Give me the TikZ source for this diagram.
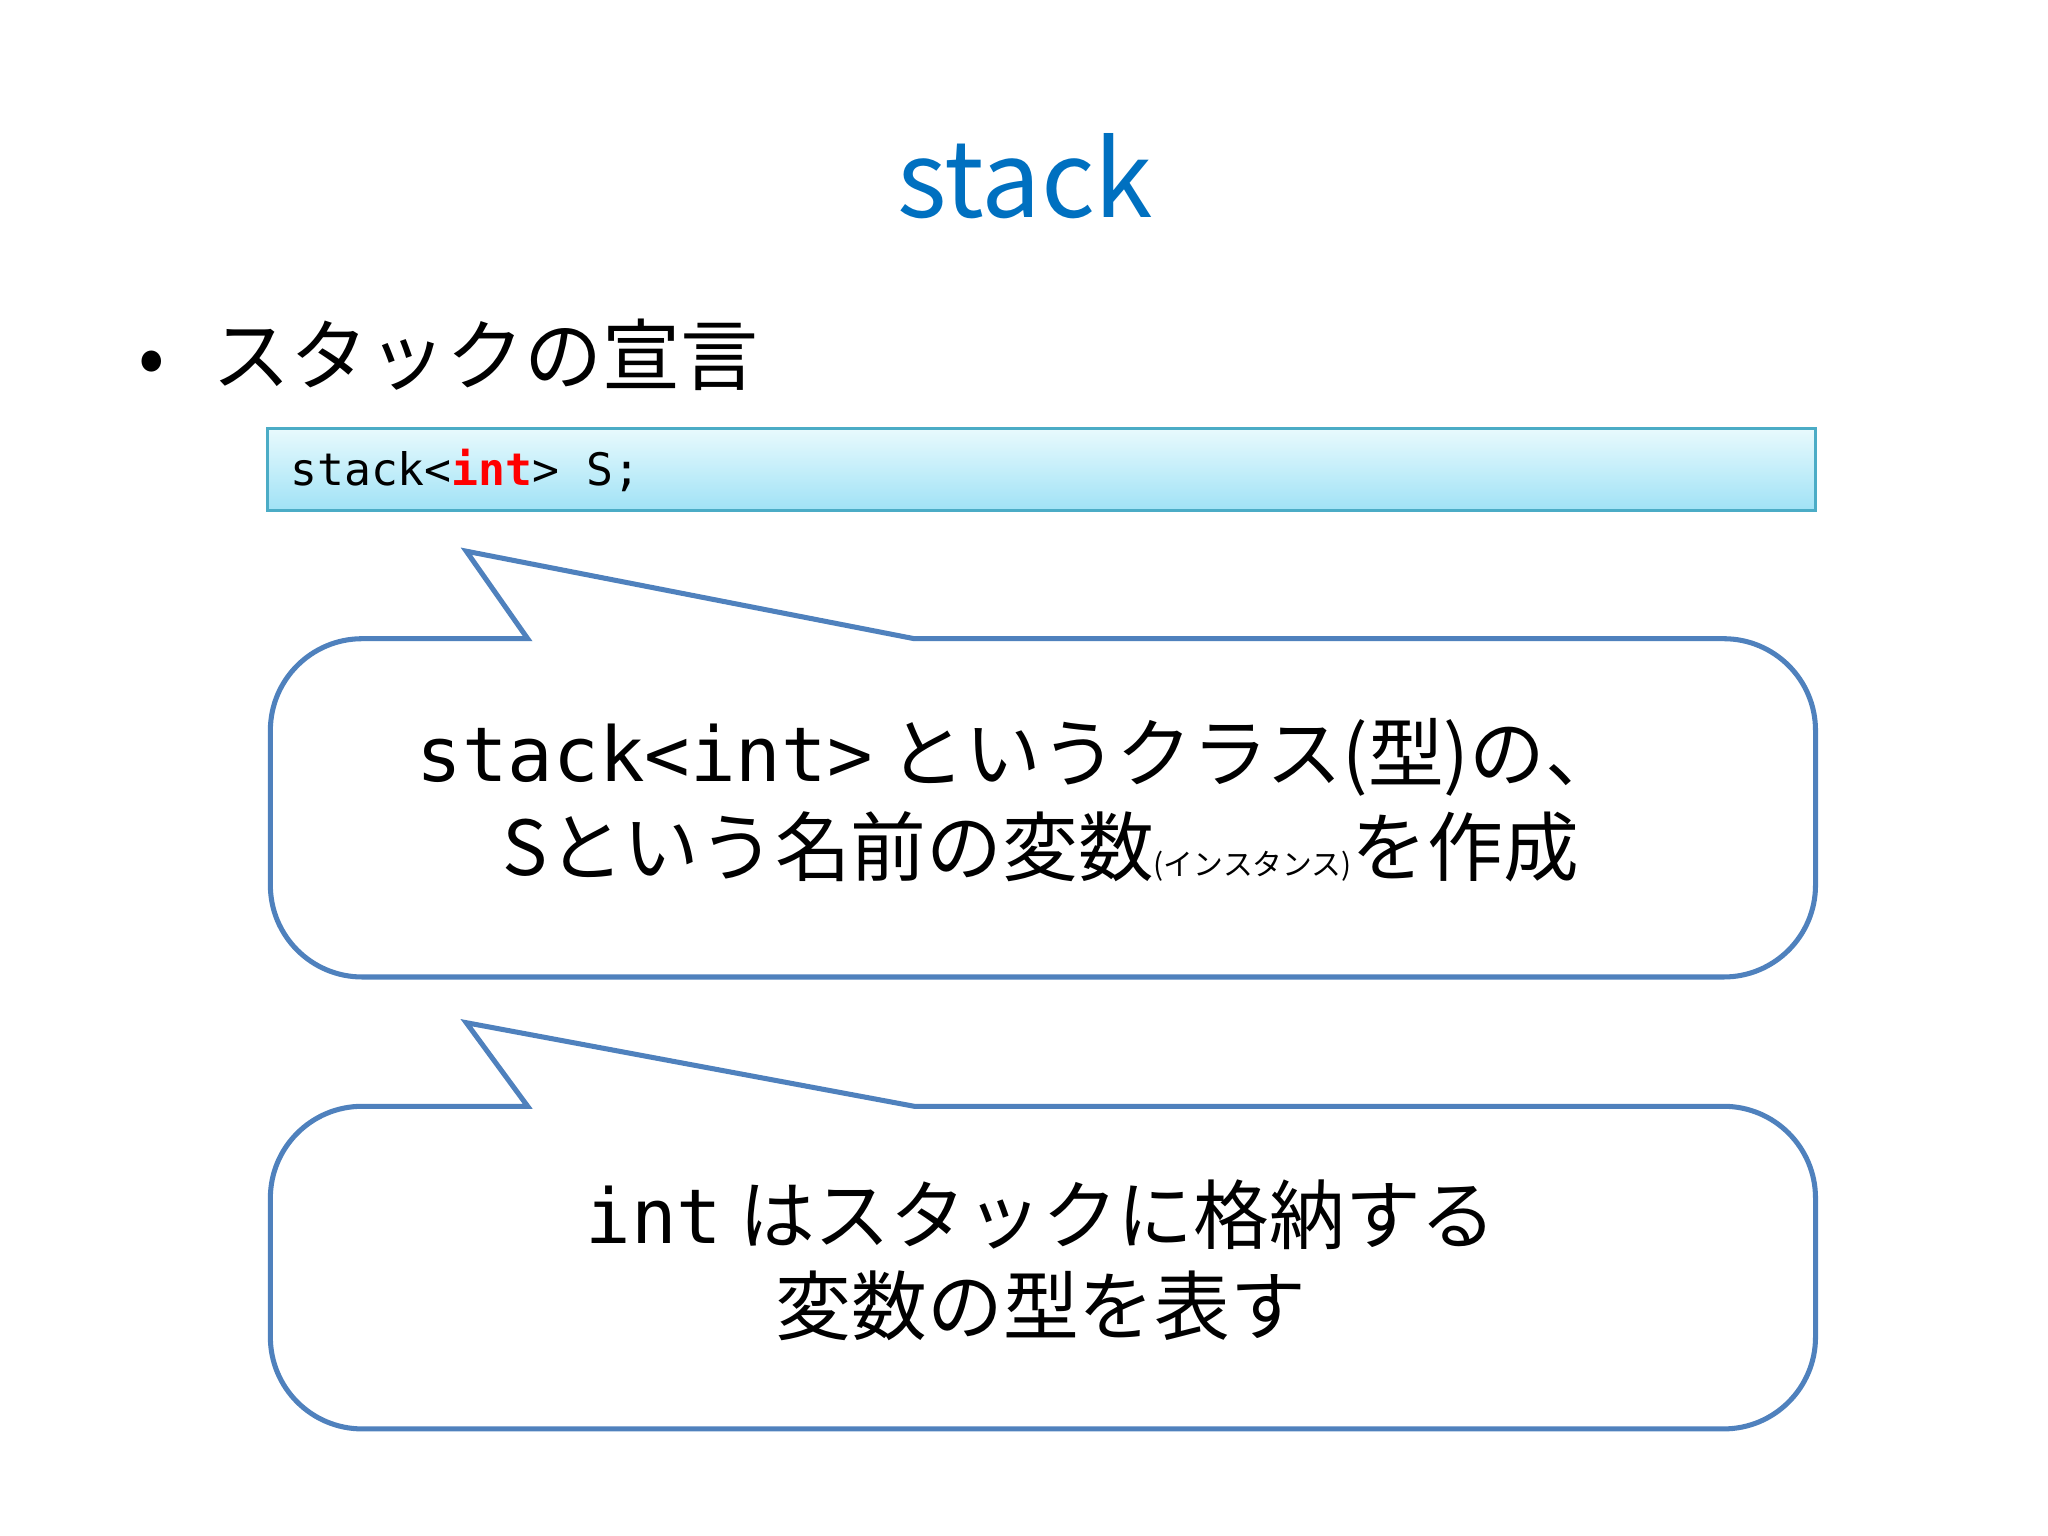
\documentclass[tikz,border=0pt]{standalone}
\usepackage{fontspec}
\setmainfont{Noto Sans CJK JP}
\newfontfamily\jp{Noto Sans CJK JP}
\newfontfamily\code{DejaVu Sans Mono}
\definecolor{ttl}{RGB}{0,112,192}
\definecolor{bub}{RGB}{79,129,189}
\definecolor{boxtop}{RGB}{232,250,253}
\definecolor{boxbot}{RGB}{160,226,246}
\definecolor{boxline}{RGB}{75,172,198}
\tikzset{bubble/.style={draw=bub,line width=2.2pt,fill=white},
 big/.style={font=\jp\fontsize{33}{40}\selectfont,inner sep=0},
}
\begin{document}
\begin{tikzpicture}[x=0.02cm,y=-0.02cm]
\useasboundingbox (0,0) rectangle (1568,1176);
\node[text=ttl,font=\jp\fontsize{46}{50}\selectfont] (title) at (785,135) {stack};
\node[font=\jp\fontsize{34}{40}\selectfont,anchor=west] (bul) at (100,272) {•\hspace{0.6em}スタックの宣言};
\shade[top color=boxtop,bottom color=boxbot] (205,328) rectangle (1390,391);
\draw[boxline,line width=1.2pt] (205,328) rectangle (1390,391);
\node[anchor=west,font=\code\fontsize{19.5}{22}\selectfont] (code) at (216,360) {stack<\textcolor{red}{\textbf{int}}> S;};
% bubble 1
\draw[bubble,rounded corners=0pt] (404,489) -- (357,422) -- (700,489)
  [rounded corners=40] -- (1390,489) -- (1390,748) -- (207,748) -- (207,489) [rounded corners=0pt] -- cycle;
\node[big] (t1) at (780,580) {{\code stack<int>} というクラス(型)の、};
\node[big] (t2) at (797,648) {Sという名前の変数{\fontsize{13}{15}\selectfont(インスタンス)}を作成};
% bubble 2
\draw[bubble,rounded corners=0pt] (404,847) -- (357,783) -- (700,847)
  [rounded corners=40] -- (1390,847) -- (1390,1094) -- (207,1094) -- (207,847) [rounded corners=0pt] -- cycle;
\node[big] (t3) at (797,930) {{\code int} はスタックに格納する};
\node[big] (t4) at (797,1000) {変数の型を表す};
\end{tikzpicture}
\end{document}
